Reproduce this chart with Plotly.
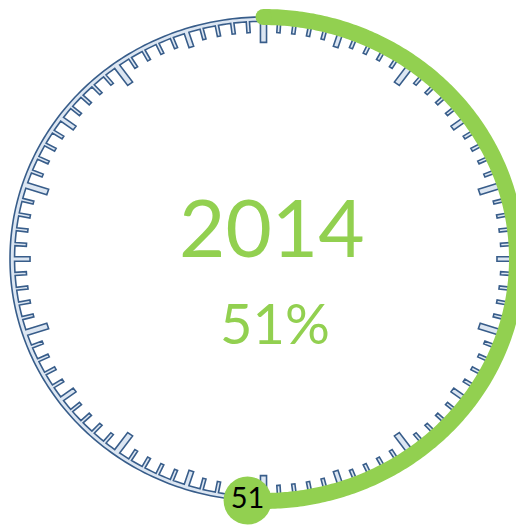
import numpy as np
import plotly.graph_objects as go

# values shown on the gauge
year_label = "2014"
progress = [51]            # percent done
n_ticks = 100              # one tick per percent
major_step = 10
mid_step = 5

GREEN = "#92D050"
BLUE_LINE = "#385D8A"
BLUE_FILL = "#DCE6F2"
FONT = "Lato"

R_OUT = 1.0
R_IN = 0.982
TIP = {"major": 0.895, "mid": 0.921, "minor": 0.937}
HALF_W = {"major": 3.0 / 250, "mid": 2.4 / 250, "minor": 1.6 / 250}

# the page body adds an 8px offset, so the figure is a bit smaller than the window
W, H = 516, 517
CX, CY = 255.5, 251.0      # ring centre in figure pixels
RX, RY = 253.5, 242.0      # ring is slightly wider than tall


def pt(r, deg):
    th = np.radians(deg)
    return r * np.sin(th), r * np.cos(th)


def tick_kind(i):
    if i % major_step == 0:
        return "major"
    if i % mid_step == 0:
        return "mid"
    return "minor"


# inner comb outline, clockwise from tick 0
step = 360.0 / n_ticks
cx, cy = [], []
for i in range(n_ticks):
    th = np.radians(i * step)
    d = np.array([np.sin(th), np.cos(th)])
    p = np.array([np.cos(th), -np.sin(th)])
    k = tick_kind(i)
    hw = HALF_W[k]
    for q in (R_IN * d - hw * p, TIP[k] * d - hw * p, TIP[k] * d + hw * p, R_IN * d + hw * p):
        cx.append(q[0])
        cy.append(q[1])
    # ring arc to next tick
    nk = tick_kind((i + 1) % n_ticks)
    a0 = i * step + np.degrees(hw / R_IN)
    a1 = (i + 1) * step - np.degrees(HALF_W[nk] / R_IN)
    for a in np.linspace(a0, a1, 4)[1:-1]:
        x, y = pt(R_IN, a)
        cx.append(x)
        cy.append(y)
cx.append(cx[0])
cy.append(cy[0])

ang = np.linspace(0, 360, 361)
ox, oy = pt(R_OUT, ang)

fig = go.Figure()

# ring fill (outer loop + reversed comb)
fig.add_trace(go.Scatter(
    x=list(ox) + cx[::-1], y=list(oy) + cy[::-1],
    mode="lines", fill="toself", fillcolor=BLUE_FILL,
    line=dict(width=0, simplify=False), hoverinfo="skip"
))
fig.add_trace(go.Scatter(x=ox, y=oy, mode="lines",
                         line=dict(color=BLUE_LINE, width=1.6, simplify=False),
                         hoverinfo="skip"))
fig.add_trace(go.Scatter(x=cx, y=cy, mode="lines",
                         line=dict(color=BLUE_LINE, width=1.6, simplify=False),
                         hoverinfo="skip"))

# progress arc
end_deg = progress[0] / 100 * 360
arc = np.linspace(0, end_deg, 300)
ax_, ay_ = pt(R_OUT, arc)
fig.add_trace(go.Scatter(x=ax_, y=ay_, mode="lines",
                         line=dict(color=GREEN, width=16, simplify=False),
                         hoverinfo="skip"))
sx, sy = pt(R_OUT, 0)
fig.add_trace(go.Scatter(x=[sx], y=[sy], mode="markers",
                         marker=dict(color=GREEN, size=16), hoverinfo="skip"))
ex, ey = pt(R_OUT, end_deg)
fig.add_trace(go.Scatter(
    x=[ex], y=[ey], mode="markers+text",
    marker=dict(color=GREEN, size=48),
    text=[str(progress[0])], textposition="middle center",
    textfont=dict(family=FONT, size=29, color="black"),
    hoverinfo="skip"
))

fig.add_annotation(text=year_label, x=0.5116, y=0.5793, xref="paper", yref="paper",
                   showarrow=False, font=dict(family=FONT, size=80, color=GREEN))
fig.add_annotation(text=f"{progress[0]}%", x=0.5165, y=0.3926, xref="paper", yref="paper",
                   showarrow=False, font=dict(family=FONT, size=56, color=GREEN))

fig.update_layout(
    width=W, height=H,
    margin=dict(l=0, r=0, t=0, b=0),
    paper_bgcolor="white", plot_bgcolor="white",
    showlegend=False,
    xaxis=dict(range=[-CX / RX, (W - CX) / RX], visible=False, fixedrange=True),
    yaxis=dict(range=[-(H - CY) / RY, CY / RY], visible=False, fixedrange=True),
)

fig.write_html("out.html")
